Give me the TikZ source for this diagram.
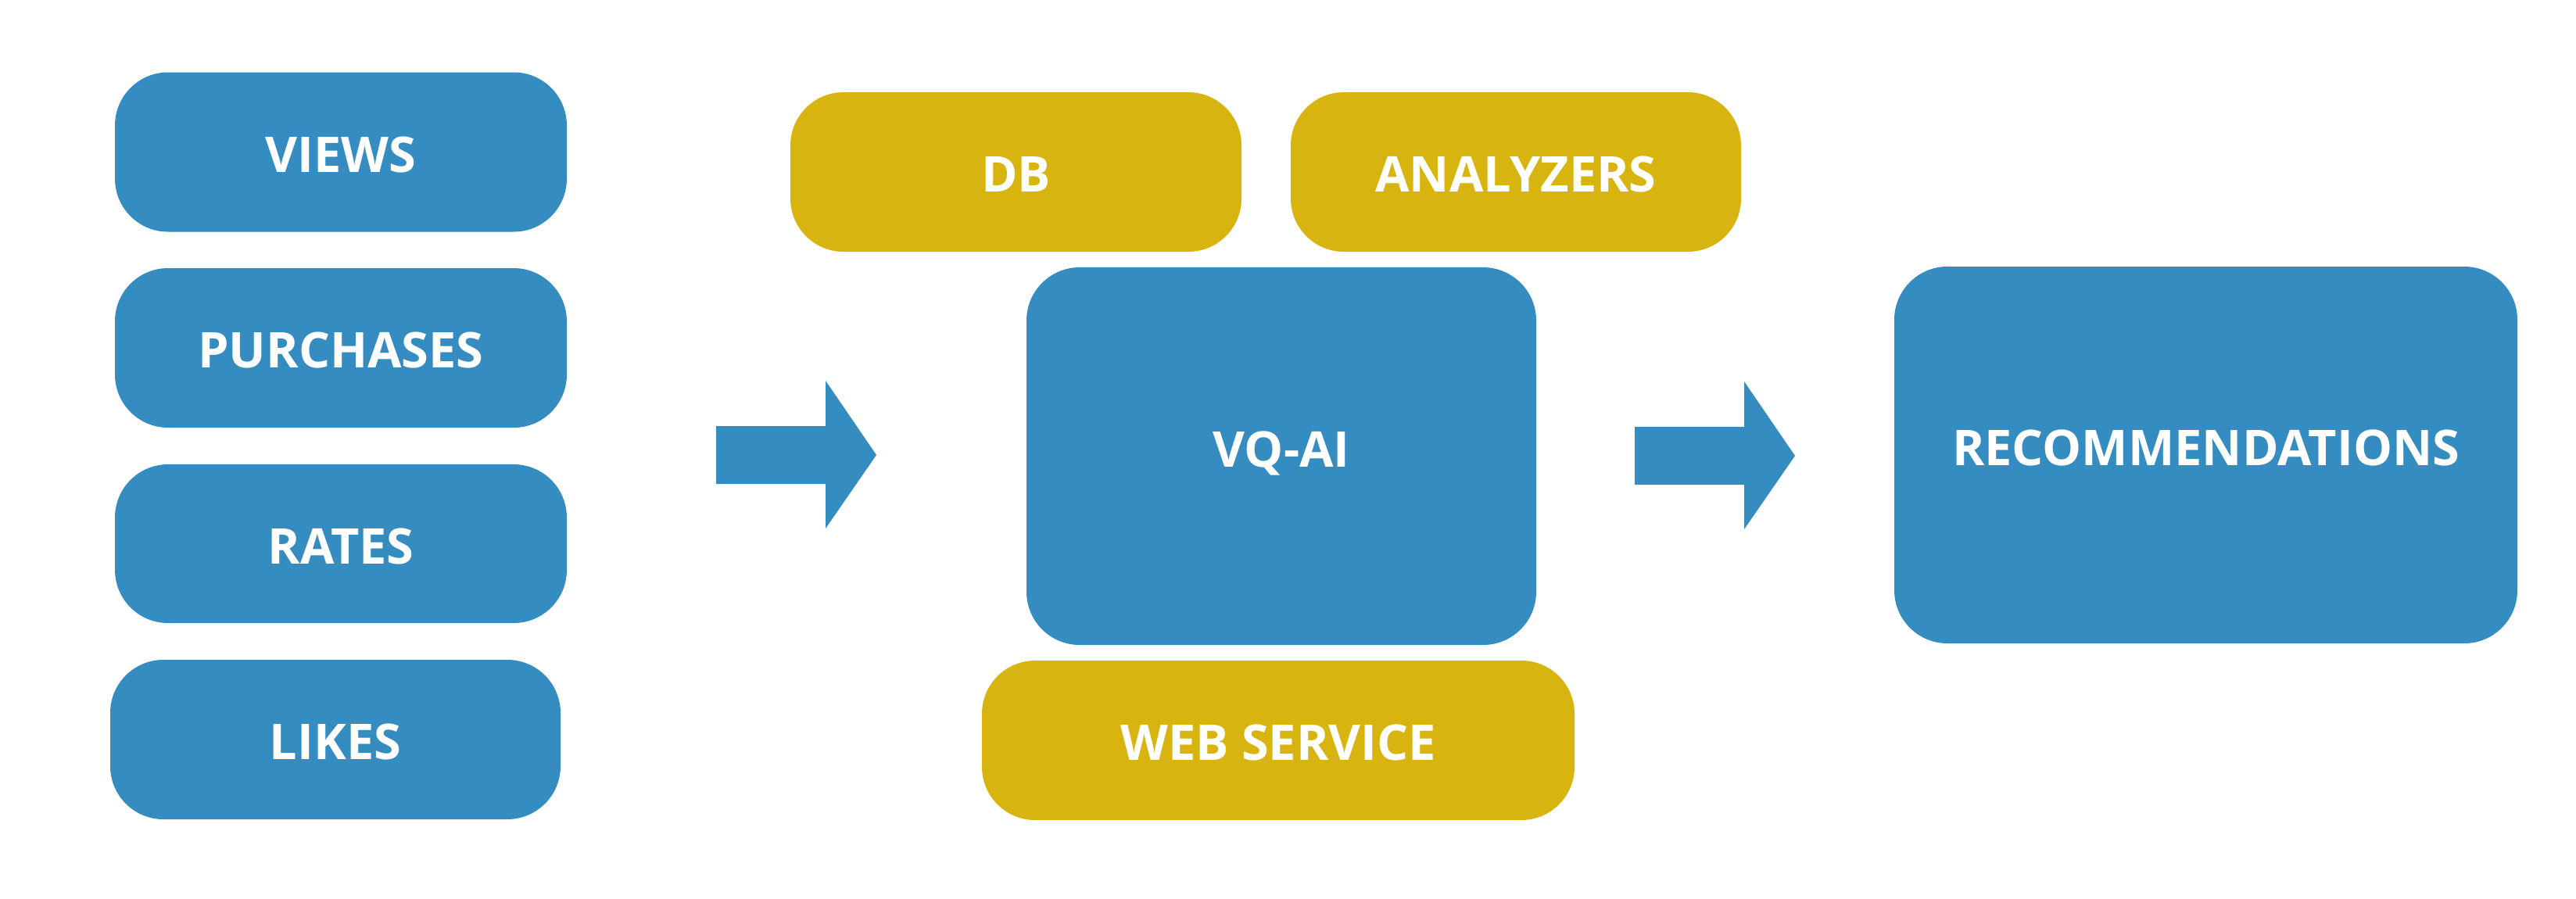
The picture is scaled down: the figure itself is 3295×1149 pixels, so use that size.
\documentclass[tikz,border=0pt]{standalone}
\usepackage{fontspec}
\setmainfont{Open Sans}
\definecolor{boxblue}{HTML}{358CC1}
\definecolor{boxgold}{HTML}{D8B411}
\tikzset{
  card/.style={rectangle, rounded corners=68pt, draw=none, inner sep=0pt,
    text=white, font=\fontsize{63}{70}\selectfont\bfseries,
    text height=51pt, text depth=0pt},
  bluecard/.style={card, fill=boxblue},
  goldcard/.style={card, fill=boxgold},
  bigcard/.style={bluecard, text height=45pt, text depth=18pt},
  blockarrow/.style={fill=boxblue, draw=none}
}
\begin{document}
\begin{tikzpicture}[x=1pt,y=-1pt]
\useasboundingbox (0,0) rectangle (3295,1149);
% left column
\node[bluecard, minimum width=578pt, minimum height=204pt] (views) at (436,194.5) {VIEWS};
\node[bluecard, minimum width=578pt, minimum height=204pt] (purch) at (436,445) {PURCHASES};
\node[bluecard, minimum width=578pt, minimum height=203pt] (rates) at (436,695.5) {RATES};
\node[bluecard, minimum width=576pt, minimum height=204pt] (likes) at (429,946) {LIKES};
% middle
\node[goldcard, minimum width=577pt, minimum height=204pt] (db) at (1299.5,220) {DB};
\node[goldcard, minimum width=576pt, minimum height=204pt] (anal) at (1939,220) {ANALYZERS};
\node[bigcard, minimum width=652pt, minimum height=483pt] (vqai) at (1639,583.5) {VQ-AI};
\node[goldcard, minimum width=758pt, minimum height=204pt] (web) at (1635,947) {WEB SERVICE};
% right
\node[bigcard, minimum width=797pt, minimum height=482pt] (rec) at (2821.5,582) {RECOMMENDATIONS};
% block arrows
\coordinate (a1) at (916,582);
\coordinate (a2) at (2091,583);
\fill[blockarrow] (a1) ++(0,-37) -- ++(140,0) -- ++(0,-58) -- ++(65,95) -- ++(-65,94) -- ++(0,-57) -- ++(-140,0) -- cycle;
\fill[blockarrow] (a2) ++(0,-37) -- ++(140,0) -- ++(0,-58) -- ++(65,95) -- ++(-65,94) -- ++(0,-57) -- ++(-140,0) -- cycle;
\end{tikzpicture}
\end{document}
